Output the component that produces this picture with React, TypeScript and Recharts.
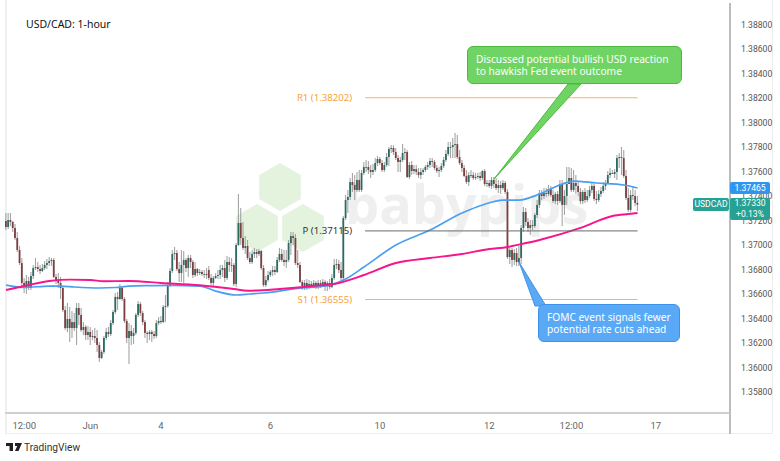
import React from 'react';
import {
  Bar,
  ComposedChart,
  Line,
  ReferenceLine,
  XAxis,
  YAxis,
} from 'recharts';

const opens = [
  1.37196, 1.37147, 1.37204, 1.37188, 1.37139, 1.37057, 1.36959, 1.36853, 1.3669, 1.36649,
  1.36706, 1.36649, 1.36747, 1.36812, 1.3682, 1.36804, 1.36788, 1.36812, 1.36837, 1.36853,
  1.36869, 1.36878, 1.36739, 1.36714, 1.3669, 1.36649, 1.36469, 1.36322, 1.36396, 1.36322,
  1.36371, 1.36322, 1.36486, 1.36429, 1.36306, 1.36331, 1.36265, 1.3629, 1.36249, 1.36257,
  1.36241, 1.36184, 1.36078, 1.36127, 1.36241, 1.3629, 1.36273, 1.36363, 1.36453, 1.36576,
  1.36559, 1.36649, 1.36559, 1.3638, 1.36241, 1.36298, 1.36257, 1.36282, 1.36429, 1.36518,
  1.36445, 1.36371, 1.36282, 1.36273, 1.3629, 1.36273, 1.36257, 1.36363, 1.3638, 1.36371,
  1.36494, 1.36502, 1.36673, 1.36788, 1.36927, 1.36935, 1.36804, 1.36771, 1.36837, 1.36878,
  1.36812, 1.36894, 1.36861, 1.36755, 1.36804, 1.36771, 1.3678, 1.36763, 1.36763, 1.36796,
  1.36731, 1.3669, 1.36731, 1.36747, 1.36755, 1.36796, 1.36812, 1.36731, 1.36861, 1.36837,
  1.36837, 1.36682, 1.37, 1.3718, 1.37057, 1.36976, 1.36992, 1.36894, 1.36861, 1.36927,
  1.36943, 1.36927, 1.36951, 1.36812, 1.36673, 1.36714, 1.36755, 1.3678, 1.36796, 1.3678,
  1.36878, 1.36927, 1.36878, 1.36861, 1.36878, 1.37016, 1.37073, 1.37057, 1.36853, 1.36837,
  1.36698, 1.36665, 1.3669, 1.36657, 1.36682, 1.36665, 1.3669, 1.36665, 1.3669, 1.36665,
  1.36698, 1.36665, 1.3669, 1.36657, 1.36731, 1.36837, 1.36845, 1.36796, 1.36731, 1.3722,
  1.37367, 1.37392, 1.37514, 1.3749, 1.37449, 1.37531, 1.37449, 1.37588, 1.37637, 1.37637,
  1.37612, 1.37596, 1.37612, 1.37669, 1.37702, 1.37669, 1.37612, 1.37653, 1.37718, 1.37784,
  1.37792, 1.37759, 1.3771, 1.37678, 1.37694, 1.37751, 1.37759, 1.37555, 1.37653, 1.37604,
  1.3762, 1.37596, 1.37571, 1.37596, 1.37612, 1.37637, 1.37653, 1.37686, 1.37678, 1.37629,
  1.37604, 1.37612, 1.37645, 1.37694, 1.37743, 1.378, 1.378, 1.37816, 1.37824, 1.37718,
  1.37669, 1.37629, 1.37563, 1.37514, 1.37571, 1.37571, 1.37547, 1.37555, 1.37563, 1.37547,
  1.37604, 1.37498, 1.37506, 1.37482, 1.37531, 1.37498, 1.37465, 1.3749, 1.37465, 1.37506,
  1.37433, 1.36902, 1.36959, 1.36878, 1.36935, 1.36861, 1.36894, 1.37139, 1.37269, 1.37188,
  1.37139, 1.37163, 1.37155, 1.37245, 1.37327, 1.37424, 1.374, 1.37424, 1.37416, 1.37457,
  1.37408, 1.37359, 1.37416, 1.37359, 1.37498, 1.37327, 1.374, 1.37498, 1.37547, 1.37449,
  1.37506, 1.37482, 1.37433, 1.37359, 1.37433, 1.37367, 1.374, 1.37449, 1.37482, 1.37376,
  1.37367, 1.37416, 1.37441, 1.37482, 1.37498, 1.37571, 1.37588, 1.3758, 1.37596, 1.3771,
  1.37718, 1.3771, 1.37563, 1.37384, 1.37286, 1.37408, 1.374, 1.37343,
];

const closes = [
  1.37147, 1.37204, 1.37188, 1.37139, 1.37057, 1.36959, 1.36853, 1.3669, 1.36649, 1.36706,
  1.36649, 1.36747, 1.36812, 1.3682, 1.36804, 1.36788, 1.36812, 1.36837, 1.36853, 1.36869,
  1.36878, 1.36739, 1.36714, 1.3669, 1.36649, 1.36469, 1.36322, 1.36396, 1.36322, 1.36371,
  1.36322, 1.36486, 1.36429, 1.36306, 1.36331, 1.36265, 1.3629, 1.36249, 1.36257, 1.36241,
  1.36184, 1.36078, 1.36127, 1.36241, 1.3629, 1.36273, 1.36363, 1.36453, 1.36576, 1.36559,
  1.36649, 1.36559, 1.3638, 1.36241, 1.36298, 1.36257, 1.36282, 1.36429, 1.36518, 1.36445,
  1.36371, 1.36282, 1.36273, 1.3629, 1.36273, 1.36257, 1.36363, 1.3638, 1.36371, 1.36494,
  1.36502, 1.36673, 1.36788, 1.36927, 1.36935, 1.36804, 1.36771, 1.36837, 1.36878, 1.36812,
  1.36894, 1.36861, 1.36755, 1.36804, 1.36771, 1.3678, 1.36763, 1.36763, 1.36755, 1.36731,
  1.3669, 1.36731, 1.36747, 1.36755, 1.36796, 1.36812, 1.36731, 1.36861, 1.36837, 1.36837,
  1.36682, 1.37, 1.3718, 1.37057, 1.36976, 1.36992, 1.36894, 1.36861, 1.36927, 1.36943,
  1.36927, 1.36951, 1.36812, 1.36673, 1.36714, 1.36755, 1.3678, 1.36796, 1.3678, 1.36878,
  1.36927, 1.36878, 1.36861, 1.36878, 1.37016, 1.37073, 1.37057, 1.36853, 1.36837, 1.36698,
  1.36665, 1.3669, 1.36657, 1.36682, 1.36665, 1.3669, 1.36665, 1.3669, 1.36665, 1.36698,
  1.36665, 1.3669, 1.36657, 1.36731, 1.36837, 1.36845, 1.36796, 1.36731, 1.3722, 1.37367,
  1.37392, 1.37514, 1.3749, 1.37449, 1.37531, 1.37449, 1.37588, 1.37637, 1.37637, 1.37612,
  1.37596, 1.37612, 1.37669, 1.37702, 1.37669, 1.37612, 1.37653, 1.37718, 1.37784, 1.37792,
  1.37759, 1.3771, 1.37678, 1.37694, 1.37751, 1.37759, 1.37555, 1.37653, 1.37604, 1.3762,
  1.37596, 1.37571, 1.37596, 1.37612, 1.37637, 1.37653, 1.37686, 1.37678, 1.37629, 1.37604,
  1.37612, 1.37645, 1.37694, 1.37743, 1.378, 1.378, 1.37816, 1.37824, 1.37718, 1.37669,
  1.37629, 1.37563, 1.37514, 1.37571, 1.37571, 1.37547, 1.37555, 1.37563, 1.37547, 1.37604,
  1.37498, 1.37506, 1.37482, 1.37531, 1.37498, 1.37465, 1.3749, 1.37465, 1.37506, 1.37433,
  1.36902, 1.36959, 1.36878, 1.36935, 1.36861, 1.36894, 1.37139, 1.37269, 1.37188, 1.37139,
  1.37163, 1.37155, 1.37245, 1.37327, 1.37424, 1.374, 1.37424, 1.37416, 1.37457, 1.37408,
  1.37359, 1.37416, 1.37359, 1.37498, 1.37327, 1.374, 1.37498, 1.37547, 1.37449, 1.37506,
  1.37482, 1.37433, 1.37359, 1.37433, 1.37367, 1.374, 1.37449, 1.37482, 1.37376, 1.37367,
  1.37416, 1.37441, 1.37482, 1.37498, 1.37571, 1.37588, 1.3758, 1.37596, 1.3771, 1.37718,
  1.3771, 1.37563, 1.37384, 1.37286, 1.37408, 1.374, 1.37343, 1.3733,
];

const highs = [
  1.37261, 1.37261, 1.37261, 1.37196, 1.37171, 1.37106, 1.36992, 1.36894, 1.36731, 1.36755,
  1.36739, 1.3678, 1.36837, 1.36894, 1.36861, 1.36837, 1.36845, 1.36869, 1.36886, 1.36902,
  1.36894, 1.36894, 1.36763, 1.36771, 1.36739, 1.36665, 1.36502, 1.36527, 1.36494, 1.36461,
  1.36445, 1.36527, 1.36527, 1.36486, 1.36371, 1.36347, 1.36339, 1.36331, 1.36306, 1.36322,
  1.36306, 1.36208, 1.36143, 1.36257, 1.36322, 1.36331, 1.36388, 1.36469, 1.36608, 1.36616,
  1.36682, 1.36657, 1.36576, 1.36396, 1.36363, 1.36347, 1.36322, 1.36445, 1.36543, 1.36535,
  1.36461, 1.36388, 1.36298, 1.36306, 1.36306, 1.36298, 1.36388, 1.36412, 1.3642, 1.3651,
  1.36592, 1.36698, 1.36812, 1.36959, 1.36984, 1.36959, 1.36861, 1.36959, 1.36951, 1.36894,
  1.36918, 1.36918, 1.36878, 1.36861, 1.36812, 1.36804, 1.36796, 1.36796, 1.36812, 1.36829,
  1.36763, 1.36747, 1.36771, 1.36796, 1.36837, 1.36837, 1.36878, 1.3691, 1.36902, 1.36894,
  1.36853, 1.37016, 1.37416, 1.37302, 1.37188, 1.37073, 1.37041, 1.36943, 1.36959, 1.36976,
  1.36967, 1.36967, 1.36959, 1.36837, 1.36747, 1.36788, 1.36796, 1.36829, 1.36829, 1.36902,
  1.36976, 1.36967, 1.36959, 1.36959, 1.37041, 1.37106, 1.37106, 1.3709, 1.36959, 1.36861,
  1.36714, 1.36714, 1.36722, 1.36714, 1.36706, 1.36714, 1.36706, 1.36714, 1.36714, 1.36722,
  1.36714, 1.36706, 1.36722, 1.36763, 1.36886, 1.36886, 1.36878, 1.36861, 1.37237, 1.37408,
  1.37449, 1.37547, 1.37588, 1.37571, 1.37596, 1.37612, 1.37612, 1.37678, 1.37694, 1.37686,
  1.37653, 1.37661, 1.3771, 1.37727, 1.37718, 1.37694, 1.37678, 1.37751, 1.378, 1.37816,
  1.37816, 1.37792, 1.37735, 1.37718, 1.37824, 1.37792, 1.37776, 1.37678, 1.37686, 1.37653,
  1.37653, 1.37629, 1.37629, 1.37629, 1.37653, 1.37678, 1.3771, 1.3771, 1.37694, 1.37653,
  1.37637, 1.37669, 1.37718, 1.37776, 1.37841, 1.37841, 1.37873, 1.37914, 1.37898, 1.37776,
  1.37694, 1.37653, 1.37612, 1.37596, 1.37612, 1.37596, 1.37588, 1.37588, 1.37596, 1.37612,
  1.3762, 1.37531, 1.37531, 1.37555, 1.37555, 1.37547, 1.37531, 1.37522, 1.37531, 1.37522,
  1.37457, 1.36992, 1.36976, 1.36967, 1.36976, 1.36992, 1.37163, 1.3731, 1.37302, 1.3722,
  1.37204, 1.37204, 1.37261, 1.37367, 1.37449, 1.37449, 1.37465, 1.37465, 1.3749, 1.37482,
  1.37449, 1.37433, 1.37441, 1.37531, 1.37531, 1.37449, 1.37637, 1.37637, 1.37629, 1.37612,
  1.37571, 1.37514, 1.37465, 1.37449, 1.37465, 1.37449, 1.37482, 1.37506, 1.37498, 1.37441,
  1.37449, 1.37473, 1.37514, 1.37531, 1.37604, 1.37629, 1.37612, 1.3762, 1.37735, 1.37751,
  1.378, 1.37776, 1.37612, 1.37465, 1.37449, 1.37482, 1.37449, 1.374,
];

const lows = [
  1.37122, 1.37131, 1.37155, 1.37106, 1.37041, 1.36943, 1.36837, 1.36665, 1.36608, 1.366,
  1.36633, 1.36633, 1.36722, 1.36796, 1.3678, 1.36763, 1.3678, 1.36796, 1.36804, 1.36829,
  1.36829, 1.36731, 1.36682, 1.36649, 1.36559, 1.36453, 1.36306, 1.3629, 1.36208, 1.36241,
  1.36298, 1.36184, 1.36347, 1.3629, 1.36265, 1.36224, 1.36224, 1.36184, 1.36224, 1.362,
  1.36127, 1.36045, 1.36069, 1.3611, 1.36224, 1.36249, 1.36257, 1.36347, 1.36437, 1.36469,
  1.36551, 1.36543, 1.36363, 1.362, 1.36029, 1.36184, 1.36192, 1.36265, 1.36412, 1.3642,
  1.36347, 1.36241, 1.362, 1.36224, 1.36208, 1.36233, 1.36241, 1.36347, 1.36355, 1.36363,
  1.36371, 1.36486, 1.36657, 1.36771, 1.36878, 1.36788, 1.36698, 1.36698, 1.3669, 1.3678,
  1.36739, 1.36812, 1.36731, 1.36739, 1.36747, 1.36755, 1.36747, 1.36731, 1.36722, 1.36714,
  1.36673, 1.36665, 1.36722, 1.36722, 1.36722, 1.36739, 1.36698, 1.36714, 1.3678, 1.3678,
  1.36665, 1.36657, 1.36992, 1.37, 1.36959, 1.36927, 1.36878, 1.36845, 1.36845, 1.36894,
  1.36894, 1.3691, 1.36796, 1.36657, 1.36657, 1.36698, 1.36739, 1.36747, 1.36755, 1.36771,
  1.36861, 1.36861, 1.36829, 1.36812, 1.36861, 1.36918, 1.37, 1.36837, 1.36812, 1.3669,
  1.36633, 1.36633, 1.36633, 1.36641, 1.36649, 1.36649, 1.36641, 1.36641, 1.36649, 1.36657,
  1.36624, 1.36624, 1.36641, 1.36649, 1.36714, 1.36804, 1.36771, 1.36714, 1.36698, 1.37204,
  1.37261, 1.37367, 1.37433, 1.37367, 1.37433, 1.37433, 1.37433, 1.37571, 1.37596, 1.3758,
  1.37547, 1.37571, 1.37596, 1.37645, 1.37653, 1.37596, 1.37596, 1.37637, 1.37645, 1.37751,
  1.37735, 1.37694, 1.37596, 1.37596, 1.37678, 1.37694, 1.37547, 1.37539, 1.37571, 1.3758,
  1.37571, 1.37547, 1.37539, 1.37571, 1.37596, 1.37612, 1.37629, 1.37637, 1.37612, 1.37588,
  1.37555, 1.37596, 1.37629, 1.37678, 1.37727, 1.3771, 1.3771, 1.3771, 1.37702, 1.37653,
  1.37596, 1.37555, 1.37498, 1.37482, 1.37547, 1.37531, 1.37531, 1.37539, 1.37522, 1.37531,
  1.37482, 1.37473, 1.37465, 1.37457, 1.37465, 1.37449, 1.37424, 1.37416, 1.37449, 1.37416,
  1.36886, 1.36845, 1.3682, 1.36837, 1.36829, 1.36829, 1.36845, 1.37106, 1.37155, 1.37106,
  1.37082, 1.37122, 1.37139, 1.3722, 1.37302, 1.37367, 1.37376, 1.37392, 1.374, 1.37392,
  1.37343, 1.37335, 1.37327, 1.37343, 1.37155, 1.37245, 1.37327, 1.37498, 1.37433, 1.37433,
  1.37416, 1.374, 1.37335, 1.37335, 1.37343, 1.37351, 1.37384, 1.37424, 1.37359, 1.37335,
  1.37351, 1.37392, 1.37424, 1.37449, 1.37498, 1.37547, 1.3758, 1.37547, 1.37531, 1.37629,
  1.37571, 1.37547, 1.37367, 1.37269, 1.37269, 1.37367, 1.37318, 1.37278,
];

const blueIdx = [0, 8, 19, 24, 30, 41, 48, 54, 63, 72, 85, 92, 101, 107, 113, 128, 142, 149, 157, 171, 186, 200, 209, 218, 225, 234, 244, 249, 259, 271, 277];
const blueMa = [1.36673, 1.36653, 1.36665, 1.36665, 1.36657, 1.36649, 1.36653, 1.36665, 1.36669, 1.36671, 1.36665, 1.36624, 1.36592, 1.366, 1.36608, 1.36645, 1.36673, 1.36722, 1.3682, 1.37, 1.37122, 1.37261, 1.37327, 1.37367, 1.37367, 1.37416, 1.37498, 1.37522, 1.37506, 1.3749, 1.37465];

const pinkIdx = [0, 8, 19, 28, 37, 43, 54, 68, 85, 100, 106, 120, 135, 146, 157, 171, 186, 200, 212, 220, 222, 234, 252, 266, 273, 277];
const pinkMa = [1.36633, 1.36665, 1.36706, 1.36717, 1.36714, 1.36704, 1.36706, 1.3669, 1.36671, 1.36641, 1.36627, 1.36641, 1.36665, 1.3669, 1.36755, 1.36853, 1.36894, 1.36927, 1.36967, 1.36984, 1.36992, 1.37041, 1.37139, 1.37237, 1.37253, 1.37261];

const priceTicks = [1.358, 1.36, 1.362, 1.364, 1.366, 1.368, 1.37, 1.372, 1.374, 1.376, 1.378, 1.38, 1.382, 1.384, 1.386, 1.388];
const timeTicks = [8, 37, 68, 116, 164, 212, 248, 285];
const timeLabels = ['12:00', 'Jun', '4', '6', '10', '12', '12:00', '17'];

const r1 = 1.38202;
const pivot = 1.37115;
const s1 = 1.36555;
const levelStart = 157.5;
const levelEnd = 277;

const rows = closes.map((close, i) => ({
  i,
  open: opens[i],
  close,
  range: [lows[i], highs[i]],
}));
const blueRows = blueIdx.map((i, n) => ({ i, value: blueMa[n] }));
const pinkRows = pinkIdx.map((i, n) => ({ i, value: pinkMa[n] }));

const UI_FONT = '"Noto Sans", sans-serif';
const NUM_FONT = '"Roboto", sans-serif';

const Candle = (props: any) => {
  const { x, y, width, height, payload } = props;
  const [low, high] = payload.range;
  const toY = (v: number) => y + ((high - v) / (high - low)) * height;
  const top = toY(Math.max(payload.open, payload.close));
  const bottom = toY(Math.min(payload.open, payload.close));
  const up = payload.close >= payload.open;
  const cx = x + width / 2;
  return (
    <g>
      <line x1={cx} x2={cx} y1={y} y2={y + height} stroke="#8f8f8f" strokeWidth={1.1} strokeOpacity={0.8} />
      <rect
        x={cx - 0.9}
        y={top}
        width={1.8}
        height={Math.max(bottom - top, 0.8)}
        fill={up ? '#2c6a62' : '#7c3e3e'}
      />
    </g>
  );
};

const hexPoints = (cx: number, cy: number) => {
  const r = 24;
  const w = 20.8;
  return `${cx},${cy - r} ${cx + w},${cy - r / 2} ${cx + w},${cy + r / 2} ${cx},${cy + r} ${cx - w},${cy + r / 2} ${cx - w},${cy - r / 2}`;
};

const Watermark = () => (
  <svg width={780} height={461} style={{ position: 'absolute', left: 0, top: 0 }}>
    <polygon points={hexPoints(280, 187)} fill="#e4f3de" />
    <polygon points={hexPoints(257, 228)} fill="#e4f3de" />
    <polygon points={hexPoints(303, 228)} fill="#e4f3de" />
    <text x={345} y={224} fontFamily='"Open Sans", sans-serif' fontWeight={700} fontSize={54} fill="#efefef">
      babypips
    </text>
  </svg>
);

const Callouts = () => (
  <svg width={780} height={461} style={{ position: 'absolute', left: 0, top: 0, pointerEvents: 'none' }}>
    <polygon points="494,179 568,84 581,84" fill="#6fd463" stroke="#4dba3e" strokeWidth={1} />
    <polygon points="519,262 535,306 546,306" fill="#5aa9f6" stroke="#3f92ec" strokeWidth={1} />
  </svg>
);

const noteStyle: React.CSSProperties = {
  position: 'absolute',
  boxSizing: 'border-box',
  borderRadius: 6,
  color: '#fff',
  fontFamily: UI_FONT,
  fontSize: 10.2,
  lineHeight: '12px',
  whiteSpace: 'nowrap',
};

const badgeStyle: React.CSSProperties = {
  position: 'absolute',
  color: '#fff',
  fontFamily: NUM_FONT,
  fontSize: 8.6,
  textAlign: 'center',
  borderRadius: 2,
};

const App = () => (
  <div style={{ position: 'absolute', left: 0, top: 0, width: 780, height: 461, background: '#fff', overflow: 'hidden' }}>
    <Watermark />
    <div style={{ position: 'absolute', left: 5, top: 0, width: 768, height: 434, borderLeft: '2px solid #f0f0f0', borderRight: '1px solid #eee', borderBottom: '1px solid #eee', boxSizing: 'border-box' }} />
    <div style={{ position: 'absolute', left: 729, top: 413, width: 2, height: 21, background: '#bdbdbd' }} />
    <div style={{ position: 'absolute', left: 0, top: 0 }}>
      <ComposedChart
        width={780}
        height={461}
        data={rows}
        margin={{ top: 3, right: 0, bottom: 27, left: 5 }}
      >
        <XAxis
          dataKey="i"
          type="number"
          domain={[-0.44, 317.54]}
          allowDataOverflow
          ticks={timeTicks}
          interval={0}
          tickFormatter={(v: number) => timeLabels[timeTicks.indexOf(v)]}
          tickLine={false}
          axisLine={{ stroke: '#cfcfcf', strokeWidth: 2 }}
          tick={{ fill: '#666', fontSize: 9.5, fontFamily: NUM_FONT }}
          tickMargin={3}
          height={21}
        />
        <YAxis
          orientation="right"
          type="number"
          domain={[1.356286, 1.389755]}
          allowDataOverflow
          ticks={priceTicks}
          interval={0}
          tickFormatter={(v: number) => v.toFixed(5)}
          tickLine={false}
          axisLine={{ stroke: '#bdbdbd', strokeWidth: 2 }}
          tick={{ fill: '#555', fontSize: 8.6, fontFamily: NUM_FONT }}
          tickMargin={5}
          width={50}
        />
        <Bar dataKey="range" barSize={2} shape={<Candle />} isAnimationActive={false} />
        <Line data={blueRows} dataKey="value" type="monotone" stroke="#4a9ff0" strokeWidth={1.7} dot={false} isAnimationActive={false} />
        <Line data={pinkRows} dataKey="value" type="monotone" stroke="#f7148c" strokeWidth={1.9} dot={false} isAnimationActive={false} />
        <ReferenceLine
          segment={[{ x: levelStart, y: r1 }, { x: levelEnd, y: r1 }]}
          stroke="#f9b368"
          label={{ value: 'R1 (1.38202)', position: 'left', offset: 13, fill: '#f7a13c', fontSize: 9.6, fontFamily: UI_FONT }}
        />
        <ReferenceLine
          segment={[{ x: levelStart, y: pivot }, { x: levelEnd, y: pivot }]}
          stroke="#6b6b6b"
          label={{ value: 'P (1.37115)', position: 'left', offset: 13, fill: '#333', fontSize: 9.6, fontFamily: UI_FONT }}
        />
        <ReferenceLine
          segment={[{ x: levelStart, y: s1 }, { x: levelEnd, y: s1 }]}
          stroke="#f9b368"
          label={{ value: 'S1 (1.36555)', position: 'left', offset: 13, fill: '#f7a13c', fontSize: 9.6, fontFamily: UI_FONT }}
        />
      </ComposedChart>
    </div>
    <Callouts />
    <div style={{ ...noteStyle, left: 467, top: 46, width: 215, height: 38, background: '#6fd463', border: '1.5px solid #4dba3e', padding: '6px 8px' }}>
      Discussed potential bullish USD reaction
      <br />
      to hawkish Fed event outcome
    </div>
    <div style={{ ...noteStyle, left: 538, top: 304, width: 142, height: 38, background: '#5aa9f6', border: '1.5px solid #3f92ec', padding: '6px 8px' }}>
      FOMC event signals fewer
      <br />
      potential rate cuts ahead
    </div>
    <div style={{ position: 'absolute', left: 26, top: 17, fontFamily: UI_FONT, fontSize: 10.5, lineHeight: '14px', color: '#111' }}>
      USD/CAD: 1-hour
    </div>
    <div style={{ ...badgeStyle, left: 730, top: 182, width: 40, height: 12, lineHeight: '12px', background: '#2f96f0' }}>1.37465</div>
    <div style={{ ...badgeStyle, left: 693, top: 198, width: 36, height: 13, lineHeight: '13px', background: '#26a193' }}>USDCAD</div>
    <div style={{ ...badgeStyle, left: 730, top: 198, width: 40, height: 22, lineHeight: '11px', background: '#26a193' }}>
      1.37330
      <br />
      +0.13%
    </div>
    <svg width={20} height={14} style={{ position: 'absolute', left: 5, top: 441 }}>
      <path d="M1 2h7v8H4.5V5H1zM10 2h7l-3.5 8H10l2.2-5H10z" fill="#222" />
    </svg>
    <div style={{ position: 'absolute', left: 24, top: 441, fontFamily: NUM_FONT, fontSize: 10.2, lineHeight: '14px', color: '#333' }}>
      TradingView
    </div>
  </div>
);

export default App;
